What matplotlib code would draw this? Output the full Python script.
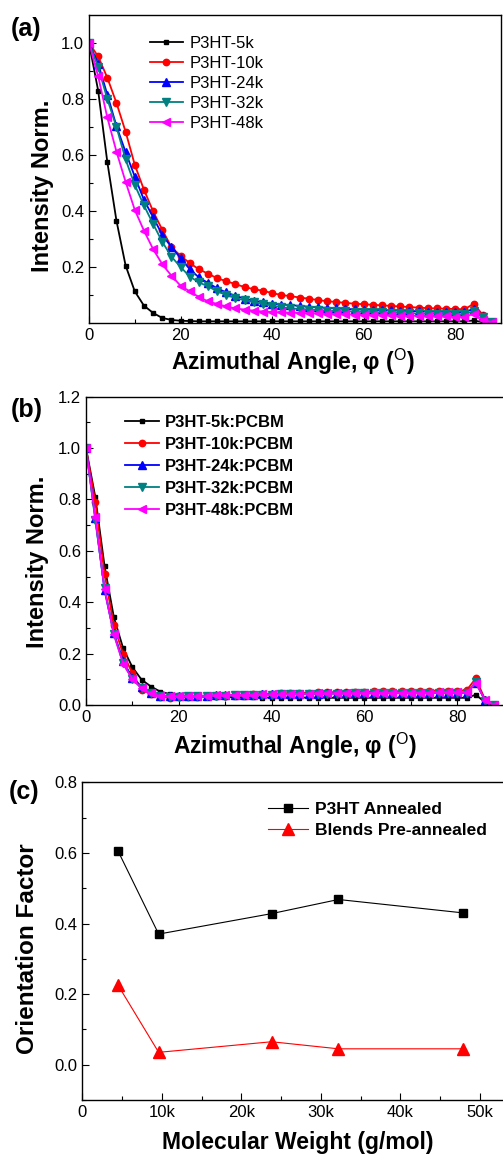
import matplotlib
matplotlib.use("Agg")
import matplotlib.pyplot as plt
from matplotlib.ticker import MultipleLocator, FixedLocator, FuncFormatter

plt.rcParams['font.family'] = ['Liberation Sans', 'DejaVu Sans']
plt.rcParams['mathtext.fontset'] = 'custom'
plt.rcParams['mathtext.rm'] = 'Liberation Sans'

# ---------------- data ----------------
angles = [0, 2, 4, 6, 8, 10, 12, 14, 16, 18, 20, 22, 24, 26, 28, 30, 32, 34, 36, 38, 40, 42,
          44, 46, 48, 50, 52, 54, 56, 58, 60, 62, 64, 66, 68, 70, 72, 74, 76, 78, 80, 82, 84, 86, 88]

labels_a = ['P3HT-5k', 'P3HT-10k', 'P3HT-24k', 'P3HT-32k', 'P3HT-48k']
a_5k = [1.0, 0.83, 0.575, 0.365, 0.205, 0.113, 0.062, 0.036, 0.018, 0.011, 0.008, 0.007, 0.006,
        0.006, 0.006, 0.006, 0.006, 0.006, 0.006, 0.006, 0.006, 0.006, 0.006, 0.006, 0.006, 0.006,
        0.006, 0.006, 0.006, 0.006, 0.006, 0.006, 0.006, 0.006, 0.006, 0.006, 0.006, 0.006, 0.006,
        0.006, 0.006, 0.006, 0.009, 0.003, 0.0]
a_10k = [1.0, 0.952, 0.876, 0.786, 0.683, 0.565, 0.476, 0.399, 0.333, 0.271, 0.240, 0.214, 0.192,
         0.176, 0.160, 0.149, 0.139, 0.128, 0.121, 0.115, 0.107, 0.100, 0.096, 0.091, 0.087, 0.082,
         0.078, 0.075, 0.072, 0.069, 0.067, 0.065, 0.063, 0.061, 0.059, 0.057, 0.055, 0.053, 0.052,
         0.051, 0.050, 0.049, 0.068, 0.030, 0.005]
a_24k = [1.0, 0.926, 0.816, 0.703, 0.610, 0.523, 0.440, 0.378, 0.315, 0.271, 0.232, 0.192, 0.163,
         0.143, 0.124, 0.109, 0.097, 0.087, 0.080, 0.074, 0.069, 0.066, 0.064, 0.061, 0.058, 0.056,
         0.054, 0.052, 0.050, 0.049, 0.048, 0.047, 0.046, 0.045, 0.044, 0.043, 0.042, 0.041, 0.040,
         0.040, 0.039, 0.039, 0.050, 0.025, 0.005]
a_32k = [1.0, 0.914, 0.800, 0.700, 0.584, 0.493, 0.420, 0.354, 0.290, 0.237, 0.200, 0.166, 0.145,
         0.131, 0.113, 0.100, 0.089, 0.081, 0.074, 0.068, 0.062, 0.057, 0.052, 0.050, 0.048, 0.046,
         0.044, 0.043, 0.042, 0.041, 0.040, 0.039, 0.038, 0.037, 0.036, 0.035, 0.034, 0.033, 0.033,
         0.032, 0.032, 0.031, 0.042, 0.020, 0.004]
a_48k = [1.0, 0.881, 0.734, 0.612, 0.504, 0.404, 0.330, 0.264, 0.210, 0.169, 0.133, 0.113, 0.093,
         0.077, 0.068, 0.059, 0.052, 0.048, 0.044, 0.041, 0.039, 0.038, 0.037, 0.036, 0.035, 0.034,
         0.033, 0.032, 0.031, 0.030, 0.029, 0.028, 0.028, 0.027, 0.026, 0.026, 0.025, 0.025, 0.024,
         0.024, 0.023, 0.023, 0.032, 0.012, 0.003]

labels_b = ['P3HT-5k:PCBM', 'P3HT-10k:PCBM', 'P3HT-24k:PCBM', 'P3HT-32k:PCBM', 'P3HT-48k:PCBM']
b_5k = [1.0, 0.81, 0.54, 0.342, 0.221, 0.147, 0.098, 0.072, 0.052, 0.043, 0.038, 0.035, 0.033,
        0.032, 0.031, 0.031, 0.030, 0.030, 0.030, 0.029, 0.029, 0.029, 0.029, 0.029, 0.029, 0.029,
        0.028, 0.028, 0.028, 0.028, 0.028, 0.028, 0.028, 0.028, 0.028, 0.028, 0.028, 0.028, 0.028,
        0.028, 0.028, 0.028, 0.040, 0.010, 0.0]
b_10k = [1.0, 0.79, 0.51, 0.31, 0.199, 0.124, 0.059, 0.043, 0.033, 0.028, 0.030, 0.031, 0.033,
         0.034, 0.035, 0.036, 0.038, 0.039, 0.041, 0.042, 0.044, 0.045, 0.046, 0.047, 0.048, 0.049,
         0.050, 0.050, 0.051, 0.052, 0.052, 0.053, 0.053, 0.054, 0.054, 0.055, 0.055, 0.055, 0.056,
         0.056, 0.056, 0.057, 0.104, 0.020, 0.0]
b_24k = [1.0, 0.728, 0.446, 0.280, 0.172, 0.104, 0.072, 0.046, 0.036, 0.034, 0.034, 0.035, 0.035,
         0.036, 0.037, 0.037, 0.038, 0.039, 0.040, 0.041, 0.041, 0.042, 0.043, 0.043, 0.044, 0.044,
         0.045, 0.045, 0.045, 0.046, 0.046, 0.046, 0.047, 0.047, 0.047, 0.047, 0.048, 0.048, 0.048,
         0.048, 0.048, 0.048, 0.085, 0.020, 0.0]
b_32k = [1.0, 0.720, 0.455, 0.275, 0.165, 0.100, 0.065, 0.045, 0.035, 0.033, 0.033, 0.034, 0.034,
         0.035, 0.036, 0.036, 0.037, 0.038, 0.039, 0.040, 0.040, 0.041, 0.042, 0.042, 0.043, 0.043,
         0.044, 0.044, 0.044, 0.045, 0.045, 0.045, 0.046, 0.046, 0.046, 0.046, 0.047, 0.047, 0.047,
         0.047, 0.047, 0.047, 0.090, 0.015, 0.0]
b_48k = [1.0, 0.730, 0.450, 0.275, 0.160, 0.100, 0.065, 0.045, 0.035, 0.034, 0.035, 0.035, 0.036,
         0.036, 0.037, 0.038, 0.039, 0.040, 0.040, 0.041, 0.042, 0.042, 0.043, 0.044, 0.044, 0.045,
         0.045, 0.046, 0.046, 0.046, 0.047, 0.047, 0.047, 0.048, 0.048, 0.048, 0.048, 0.048, 0.049,
         0.049, 0.049, 0.049, 0.085, 0.020, 0.0]

mw = [4500, 9600, 23800, 32200, 47900]
labels_c = ['P3HT Annealed', 'Blends Pre-annealed']
of_annealed = [0.605, 0.370, 0.428, 0.468, 0.430]
of_blends = [0.225, 0.035, 0.065, 0.045, 0.045]

colors = ['#000000', '#FF0000', '#0000FF', '#008080', '#FF00FF']
markers = ['s', 'o', '^', 'v', '<']
msizes = [3.4, 4.6, 5.4, 5.4, 5.4]

W, H = 503, 1156
fig = plt.figure(figsize=(W / 100, H / 100), dpi=100)


def pos(l, r, t, b):
    return [l / W, 1 - b / H, (r - l) / W, (b - t) / H]


def style(ax):
    ax.tick_params(which='both', direction='in', labelsize=12, top=False, right=False)
    ax.tick_params(which='major', length=5, width=0.8)
    ax.tick_params(which='minor', length=3, width=0.8)
    for s in ax.spines.values():
        s.set_linewidth(1.0)


def place_labels(ax, xl, yl):
    ax.xaxis.set_label_coords(*xl)
    ax.xaxis.label.set_verticalalignment('center')
    ax.yaxis.set_label_coords(*yl)
    ax.yaxis.label.set_verticalalignment('center')


LBL = 16.5
xlabel_txt = r'Azimuthal Angle, φ ($\mathrm{^{O}}$)'

# ---------------- (a) ----------------
ax1 = fig.add_axes(pos(89, 501, 15, 323))
series_a = [a_5k, a_10k, a_24k, a_32k, a_48k]
for ys, c, m, ms, lab in zip(series_a, colors, markers, msizes, labels_a):
    ax1.plot(angles, ys, color=c, marker=m, markersize=ms, lw=1.3, label=lab)
ax1.set_xlim(0, 90)
ax1.set_ylim(0, 1.1)
ax1.xaxis.set_major_locator(FixedLocator([0, 20, 40, 60, 80]))
ax1.xaxis.set_minor_locator(FixedLocator([10, 30, 50, 70, 90]))
ax1.yaxis.set_major_locator(FixedLocator([0.2, 0.4, 0.6, 0.8, 1.0]))
ax1.yaxis.set_minor_locator(FixedLocator([0.1, 0.3, 0.5, 0.7, 0.9]))
ax1.yaxis.set_major_formatter(FuncFormatter(lambda v, p: f'{v:.1f}'))
style(ax1)
ax1.set_xlabel(xlabel_txt, fontsize=LBL, fontweight='bold')
ax1.set_ylabel('Intensity Norm.', fontsize=17, fontweight='bold')
place_labels(ax1, (0.495, -0.125), (-0.114, 0.445))
ax1.legend(loc='upper left', bbox_to_anchor=(0.123, 0.965), frameon=False, fontsize=12,
           handlelength=2.0, handletextpad=0.4, labelspacing=0.3, borderaxespad=0.2)
fig.text(11 / W, 1 - 29 / H, '(a)', fontsize=18, fontweight='bold', va='center', ha='left')

# ---------------- (b) ----------------
ax2 = fig.add_axes(pos(86, 503.7, 396.7, 705))
series_b = [b_5k, b_10k, b_24k, b_32k, b_48k]
for ys, c, m, ms, lab in zip(series_b, colors, markers, msizes, labels_b):
    ax2.plot(angles, ys, color=c, marker=m, markersize=ms, lw=1.3, label=lab)
ax2.set_xlim(0, 90)
ax2.set_ylim(0, 1.2)
ax2.xaxis.set_major_locator(FixedLocator([0, 20, 40, 60, 80]))
ax2.xaxis.set_minor_locator(FixedLocator([10, 30, 50, 70, 90]))
ax2.yaxis.set_major_locator(MultipleLocator(0.2))
ax2.yaxis.set_minor_locator(MultipleLocator(0.1))
ax2.yaxis.set_major_formatter(FuncFormatter(lambda v, p: f'{v:.1f}'))
style(ax2)
ax2.set_xlabel(xlabel_txt, fontsize=LBL, fontweight='bold')
ax2.set_ylabel('Intensity Norm.', fontsize=17, fontweight='bold')
place_labels(ax2, (0.50, -0.132), (-0.117, 0.465))
ax2.legend(loc='upper left', bbox_to_anchor=(0.07, 0.972), frameon=False,
           prop={'size': 12, 'weight': 'bold'},
           handlelength=2.0, handletextpad=0.4, labelspacing=0.42, borderaxespad=0.2)
fig.text(11 / W, 1 - 410 / H, '(b)', fontsize=18, fontweight='bold', va='center', ha='left')

# ---------------- (c) ----------------
ax3 = fig.add_axes(pos(82.3, 82.3 + 55 * 7.954, 782.3, 1100))
ax3.plot(mw, of_annealed, color='#000000', marker='s', markersize=6, lw=0.8, label=labels_c[0])
ax3.plot(mw, of_blends, color='#FF0000', marker='^', markersize=8, lw=0.8, label=labels_c[1])
ax3.set_xlim(0, 55000)
ax3.set_ylim(-0.1, 0.8)
ax3.xaxis.set_major_locator(MultipleLocator(10000))
ax3.xaxis.set_minor_locator(MultipleLocator(5000))
ax3.xaxis.set_major_formatter(FuncFormatter(lambda v, p: '0' if v == 0 else f'{int(v / 1000)}k'))
ax3.yaxis.set_major_locator(MultipleLocator(0.2))
ax3.yaxis.set_minor_locator(MultipleLocator(0.1))
ax3.yaxis.set_major_formatter(FuncFormatter(lambda v, p: f'{v:.1f}'))
style(ax3)
ax3.set_xlabel('Molecular Weight (g/mol)', fontsize=16.5, fontweight='bold')
ax3.set_ylabel('Orientation Factor', fontsize=17.5, fontweight='bold')
place_labels(ax3, (0.492, -0.134), (-0.126, 0.475))
ax3.legend(loc='upper left', bbox_to_anchor=(0.40, 0.97), frameon=False,
           prop={'size': 12.5, 'weight': 'bold'},
           handlelength=2.3, handletextpad=0.4, labelspacing=0.3, borderaxespad=0.2)
fig.text(9 / W, 1 - 792 / H, '(c)', fontsize=18, fontweight='bold', va='center', ha='left')

fig.savefig('out.png', dpi=100)
